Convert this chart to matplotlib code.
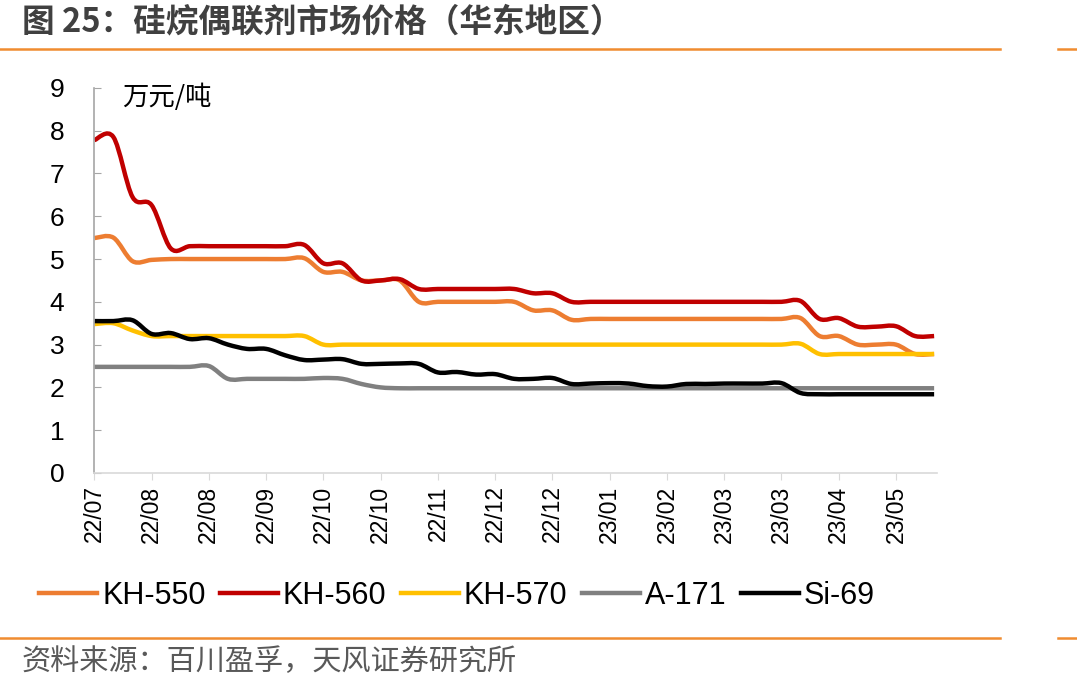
import numpy as np
import matplotlib
matplotlib.use('Agg')
from matplotlib import pyplot as plt
from matplotlib.path import Path
from matplotlib.patches import PathPatch
from matplotlib.lines import Line2D

plt.rcParams['font.family'] = ['Liberation Sans', 'Noto Sans CJK SC', 'DejaVu Sans']

# weekly prices, 万元/吨
tick_labels = ['22/07', '22/08', '22/08', '22/09', '22/10', '22/10', '22/11', '22/12',
               '22/12', '23/01', '23/02', '23/03', '23/03', '23/04', '23/05']

kh550 = [5.49, 5.50, 4.95, 4.98, 5.0, 5.0, 5.0, 5.0, 5.0, 5.0, 5.0, 5.02, 4.70, 4.70, 4.50,
         4.50, 4.50, 4.00, 4.0, 4.0, 4.0, 4.0, 4.0, 3.80, 3.80, 3.58, 3.6, 3.6, 3.6, 3.6,
         3.6, 3.6, 3.6, 3.6, 3.6, 3.6, 3.6, 3.62, 3.20, 3.20, 3.00, 3.00, 3.00, 2.78, 2.78]
kh560 = [7.78, 7.85, 6.45, 6.26, 5.25, 5.3, 5.3, 5.3, 5.3, 5.3, 5.3, 5.33, 4.90, 4.90, 4.50,
         4.50, 4.53, 4.30, 4.3, 4.3, 4.3, 4.3, 4.3, 4.20, 4.20, 4.00, 4.0, 4.0, 4.0, 4.0,
         4.0, 4.0, 4.0, 4.0, 4.0, 4.0, 4.0, 4.02, 3.60, 3.62, 3.42, 3.42, 3.43, 3.20, 3.20]
kh570 = [3.48, 3.50, 3.33, 3.20, 3.2, 3.2, 3.2, 3.2, 3.2, 3.2, 3.2, 3.20, 3.00, 3.0, 3.0,
         3.0, 3.0, 3.0, 3.0, 3.0, 3.0, 3.0, 3.0, 3.0, 3.0, 3.0, 3.0, 3.0, 3.0, 3.0,
         3.0, 3.0, 3.0, 3.0, 3.0, 3.0, 3.0, 3.02, 2.78, 2.78, 2.78, 2.78, 2.78, 2.78, 2.78]
a171 = [2.48, 2.48, 2.48, 2.48, 2.48, 2.48, 2.50, 2.20, 2.20, 2.2, 2.2, 2.2, 2.22, 2.20, 2.08,
        2.00, 1.98, 1.98, 1.98, 1.98, 1.98, 1.98, 1.98, 1.98, 1.98, 1.98, 1.98, 1.98, 1.98, 1.98,
        1.98, 1.98, 1.98, 1.98, 1.98, 1.98, 1.98, 1.98, 1.98, 1.98, 1.98, 1.98, 1.98, 1.98, 1.98]
si69 = [3.55, 3.55, 3.57, 3.25, 3.27, 3.13, 3.15, 3.00, 2.90, 2.90, 2.75, 2.64, 2.65, 2.66, 2.55,
        2.55, 2.56, 2.55, 2.35, 2.36, 2.30, 2.31, 2.20, 2.20, 2.22, 2.08, 2.09, 2.10, 2.09, 2.03,
        2.02, 2.08, 2.08, 2.09, 2.09, 2.09, 2.10, 1.87, 1.84, 1.84, 1.84, 1.84, 1.84, 1.84, 1.84]

series_names = ['KH-550', 'KH-560', 'KH-570', 'A-171', 'Si-69']
series_values = [kh550, kh560, kh570, a171, si69]
colors = ['#ED7D31', '#C00000', '#FFC000', '#808080', '#000000']


def smooth_path(xs, ys):
    # Catmull-Rom through the points, drawn as cubic Bezier (like Excel smoothed lines)
    pts = np.column_stack([xs, ys]).astype(float)
    n = len(pts)
    verts = [pts[0]]
    codes = [Path.MOVETO]
    for i in range(n - 1):
        p0 = pts[max(i - 1, 0)]
        p1 = pts[i]
        p2 = pts[i + 1]
        p3 = pts[min(i + 2, n - 1)]
        verts += [p1 + (p2 - p0) / 6, p2 - (p3 - p1) / 6, p2]
        codes += [Path.CURVE4] * 3
    return Path(verts, codes)


fig = plt.figure(figsize=(10.77, 6.92), dpi=100)
ax = fig.add_axes([0.0876, 0.3165, 0.7824, 0.5565])

x = np.arange(len(kh550))
handles = []
for name, vals, c in zip(series_names, series_values, colors):
    ax.add_patch(PathPatch(smooth_path(x, vals), fill=False, edgecolor=c, lw=3.2,
                           capstyle='butt', joinstyle='round'))
    handles.append(Line2D([], [], color=c, lw=3.2, label=name))

ax.set_xlim(0, 44.15)
ax.set_ylim(0, 9)
ax.set_yticks(range(0, 10))
ax.set_xticks(range(0, 45, 3))
ax.set_xticklabels(tick_labels, rotation=90, fontsize=16.5)
ax.tick_params(axis='y', direction='in', length=5, color='#A6A6A6', pad=27, labelsize=19)
ax.tick_params(axis='x', direction='out', length=5, color='#D9D9D9', pad=4)
for lab in ax.get_yticklabels():
    lab.set_horizontalalignment('center')
for s in ['top', 'right']:
    ax.spines[s].set_visible(False)
ax.spines['left'].set_color('#A6A6A6')
ax.spines['bottom'].set_color('#D9D9D9')
ax.spines['left'].set_linewidth(1.2)
ax.spines['bottom'].set_linewidth(1.2)

ax.text(0.033, 0.975, '万元/吨', transform=ax.transAxes, fontsize=19, va='center', ha='left',
        family=['Noto Sans CJK SC', 'DejaVu Sans'])

fig.legend(handles=handles, loc='center', bbox_to_anchor=(457 / 1077, 1 - 596 / 692),
           ncol=5, frameon=False, fontsize=22, handlelength=1.9, handletextpad=0.16,
           columnspacing=0.47)

# title, rules and source
fig.text(22 / 1077, 1 - 22 / 692, '图 25：硅烷偶联剂市场价格（华东地区）', fontsize=23.5,
         fontweight='bold', color='#404040', va='center', ha='left',
         family=['Noto Sans CJK SC', 'DejaVu Sans'])
fig.text(22 / 1077, 1 - 662 / 692, '资料来源：百川盈孚，天风证券研究所', fontsize=21,
         color='#595959', va='center', ha='left', family=['Noto Sans CJK SC', 'DejaVu Sans'])
for yy in [49, 638]:
    fig.add_artist(Line2D([0, 1000 / 1077], [1 - yy / 692] * 2, color='#F08C30', lw=1.8))
    fig.add_artist(Line2D([1058 / 1077, 1], [1 - yy / 692] * 2, color='#F08C30', lw=1.8))

fig.savefig('out.png', dpi=100)
